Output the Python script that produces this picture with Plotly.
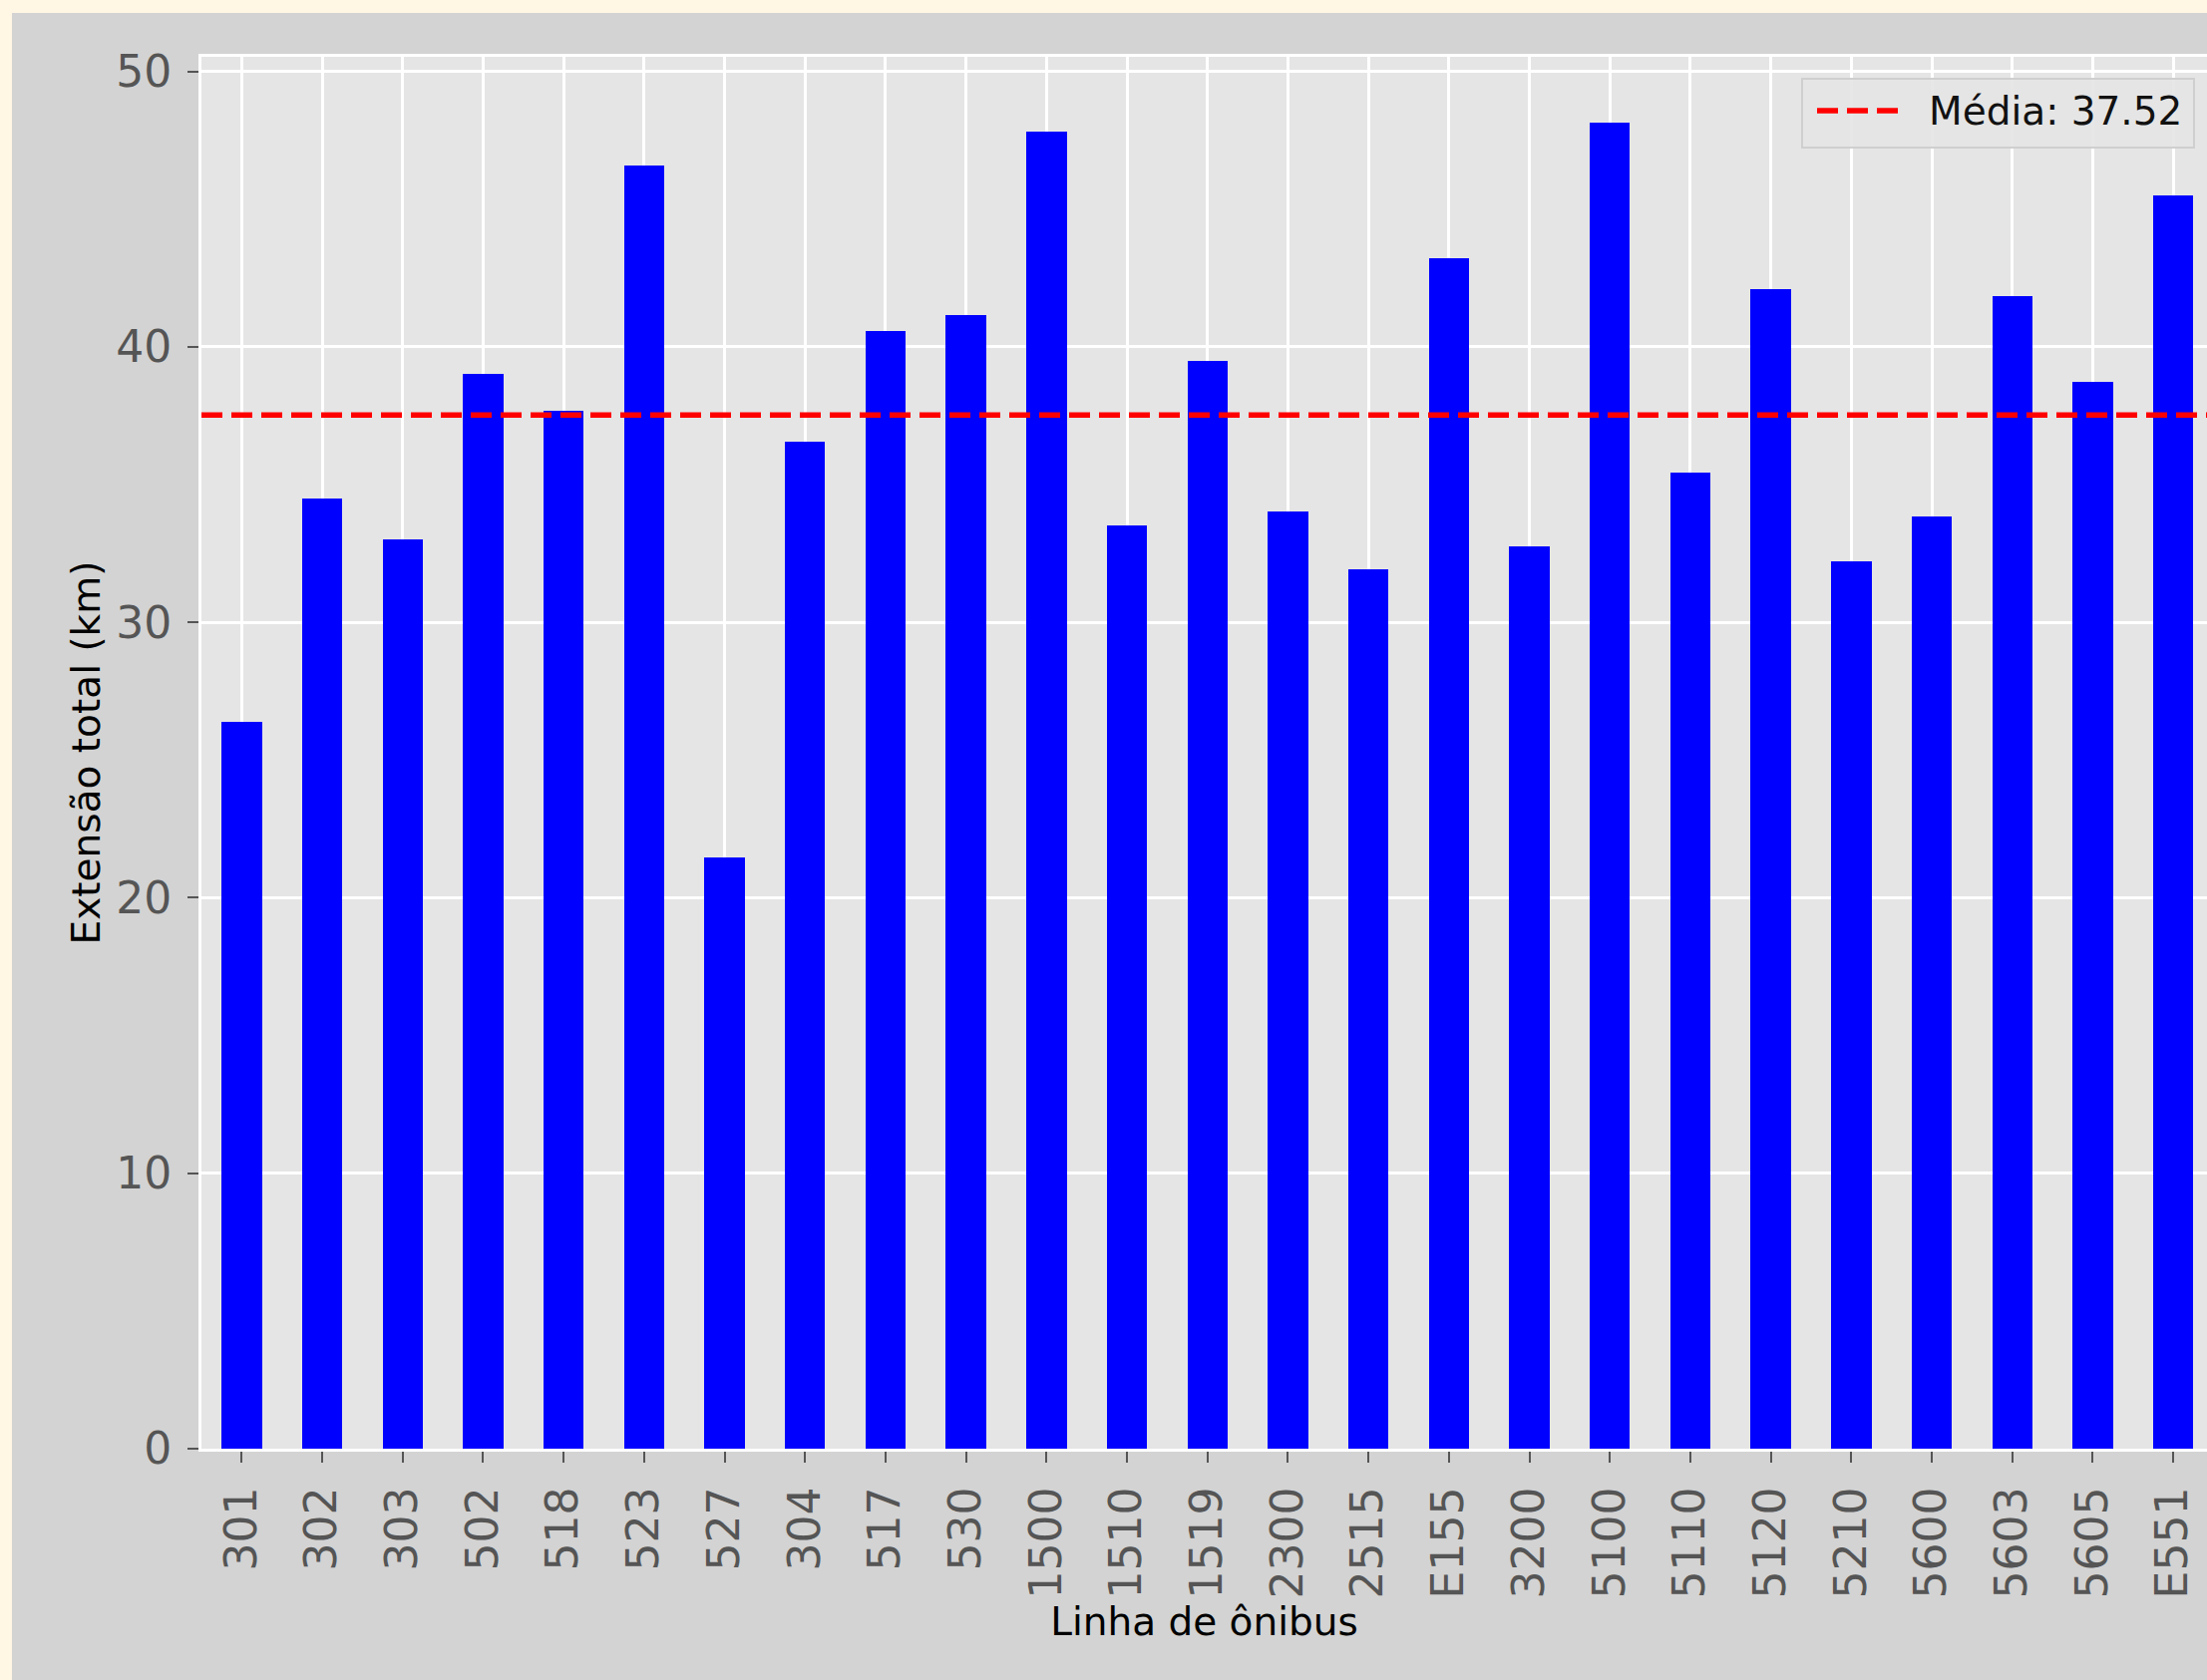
import plotly.graph_objects as go

# ---------------- data ----------------
linhas = ["301", "302", "303", "502", "518", "523", "527", "304", "517", "530",
          "1500", "1510", "1519", "2300", "2515", "E155", "3200", "5100", "5110",
          "5120", "5210", "5600", "5603", "5605", "E551"]
extensao_km = [26.37, 34.49, 33.01, 39.03, 37.69, 46.58, 21.46, 36.54, 40.56, 41.15,
               47.81, 33.50, 39.50, 34.02, 31.92, 43.22, 32.76, 48.12, 35.44,
               42.10, 32.23, 33.83, 41.83, 38.72, 45.51]
media_km = 37.52
y_ticks = [0, 10, 20, 30, 40, 50]
legend_label = f"Média: {media_km:.2f}"

# ---------------- geometry ----------------
W, H = 2213, 1685
L, T, R = 202, 57, 0
Y0PX = 1453
B = H - Y0PX
plot_w = W - L - R
plot_h = Y0PX - T
bar_step_px = 80.7

def pxx(p):
    return (p - L) / plot_w

def pxy(p):
    return (Y0PX - p) / plot_h

pos = list(range(len(linhas)))
x_range = [-0.5, -0.5 + plot_w / bar_step_px]
y_range = [0, max(extensao_km) * 1.05]

FONT = "DejaVu Sans"
TICK_C = "#555555"

fig = go.Figure()
fig.add_trace(go.Bar(
    x=pos, y=extensao_km, width=0.5,
    marker=dict(color="#0000FF", line=dict(width=0)),
    showlegend=False, hoverinfo="x+y",
))
fig.add_trace(go.Scatter(
    x=[-0.5, len(linhas) - 0.5], y=[media_km, media_km],
    mode="lines", line=dict(color="#FF0000", width=5.5, dash="21px,9px"),
    name=legend_label, showlegend=False,
))

shapes = [
    # cream outer border strips
    dict(type="rect", xref="paper", yref="paper", x0=pxx(-5), x1=pxx(12), y0=pxy(H + 5), y1=pxy(-5),
         fillcolor="#FFF6E4", line=dict(width=0), layer="below"),
    dict(type="rect", xref="paper", yref="paper", x0=pxx(-5), x1=pxx(W + 5), y0=pxy(13), y1=pxy(-5),
         fillcolor="#FFF6E4", line=dict(width=0), layer="below"),
    # legend box
    dict(type="rect", xref="paper", yref="paper", x0=pxx(1807), x1=pxx(2200), y0=pxy(148), y1=pxy(79),
         fillcolor="rgba(229,229,229,0.92)", line=dict(color="#CFCFCF", width=2), layer="above"),
    # legend key
    dict(type="line", xref="paper", yref="paper", x0=pxx(1822), x1=pxx(1903), y0=pxy(111), y1=pxy(111),
         line=dict(color="#FF0000", width=5.5, dash="21px,9px"), layer="above"),
]

annotations = [
    dict(text=legend_label, xref="paper", yref="paper", x=pxx(1932), y=pxy(111),
         xanchor="left", yanchor="middle", showarrow=False,
         font=dict(family=FONT, size=39, color="#111111")),
]

fig.update_layout(
    width=W, height=H,
    margin=dict(l=L, r=R, t=T, b=B, pad=0, autoexpand=False),
    paper_bgcolor="#D3D3D3",
    plot_bgcolor="#E5E5E5",
    font=dict(family=FONT, color="#000000"),
    shapes=shapes,
    annotations=annotations,
    showlegend=False,
    bargap=0,
)

fig.update_xaxes(
    range=x_range, tickmode="array", tickvals=pos, ticktext=linhas, tickangle=-90,
    tickfont=dict(family=FONT, size=44, color=TICK_C),
    ticks="outside", ticklen=11, tickwidth=2, tickcolor=TICK_C, ticklabelstandoff=7,
    showgrid=True, gridcolor="#FFFFFF", gridwidth=3,
    showline=True, linecolor="#FFFFFF", linewidth=3, mirror=True, zeroline=False,
    title=dict(text="Linha de ônibus", font=dict(family=FONT, size=39, color="#000000"), standoff=9),
    automargin=False,
)
fig.update_yaxes(
    range=y_range, tickmode="array", tickvals=y_ticks, ticktext=[str(v) for v in y_ticks],
    tickfont=dict(family=FONT, size=44, color=TICK_C),
    ticks="outside", ticklen=11, tickwidth=2, tickcolor=TICK_C, ticklabelstandoff=7,
    showgrid=True, gridcolor="#FFFFFF", gridwidth=3,
    showline=True, linecolor="#FFFFFF", linewidth=3, mirror=True, zeroline=False,
    title=dict(text="Extensão total (km)", font=dict(family=FONT, size=39, color="#000000"), standoff=4),
    automargin=False,
)

fig.write_html(
    "out.html",
    config={"displayModeBar": False},
    post_script="document.body.style.margin='0';document.body.style.overflow='hidden';",
)
